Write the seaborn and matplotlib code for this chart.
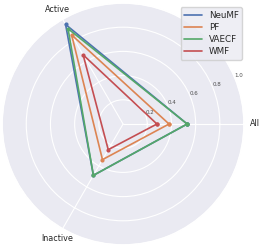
import numpy as np
import pandas as pd
import matplotlib
matplotlib.use("Agg")
import matplotlib.pyplot as plt
import seaborn as sns

# ---------- data ----------
AXES_LABELS = ["All", "Active", "Inactive"]
MODELS = ["NeuMF", "PF", "VAECF", "WMF"]
NEUMF = [0.53, 0.95, 0.49]
PF = [0.38, 0.85, 0.34]
VAECF = [0.53, 0.91, 0.49]
WMF = [0.28, 0.66, 0.245]
R_TICKS = [0.2, 0.4, 0.6, 0.8, 1.0]

# ---------- build long table (closed polygons) ----------
angles = np.linspace(0, 2 * np.pi, len(AXES_LABELS), endpoint=False)
rows = []
for name, vals in zip(MODELS, [NEUMF, PF, VAECF, WMF]):
    for a, v in zip(list(angles) + [angles[0] + 2 * np.pi], vals + [vals[0]]):
        rows.append({"angle": a, "value": v, "model": name})
df = pd.DataFrame(rows)

# ---------- plot ----------
sns.set_theme(style="darkgrid", palette="deep")
plt.rcParams["font.family"] = ["DejaVu Sans"]

fig = plt.figure(figsize=(2.64, 2.5), dpi=100)
ax = fig.add_axes([0.0076, 0.02, 0.917, 0.968], projection="polar")

sns.lineplot(data=df, x="angle", y="value", hue="model", sort=False,
             marker="o", markersize=3, markeredgewidth=0, linewidth=1.2,
             estimator=None, ax=ax)

ax.set_ylim(0, 1.0)
ax.set_xticks(angles)
ax.set_xticklabels(AXES_LABELS, fontsize=5.8, color=".15")
ax.set_yticks(R_TICKS)
ax.set_yticklabels([f"{t:.1f}" for t in R_TICKS], fontsize=4, color=".3")
ax.set_rlabel_position(22.5)
ax.set_xlabel("")
ax.set_ylabel("")
ax.tick_params(axis="x", pad=-5)
ax.grid(color="white", linewidth=0.8)

leg = ax.legend(loc="upper right", bbox_to_anchor=(1.01, 1.0),
                fontsize=6.3, handlelength=2.0, borderpad=0.4,
                labelspacing=0.35, title=None)
for h in leg.get_lines():
    h.set_marker("")

fig.savefig("out.png", dpi=100)
